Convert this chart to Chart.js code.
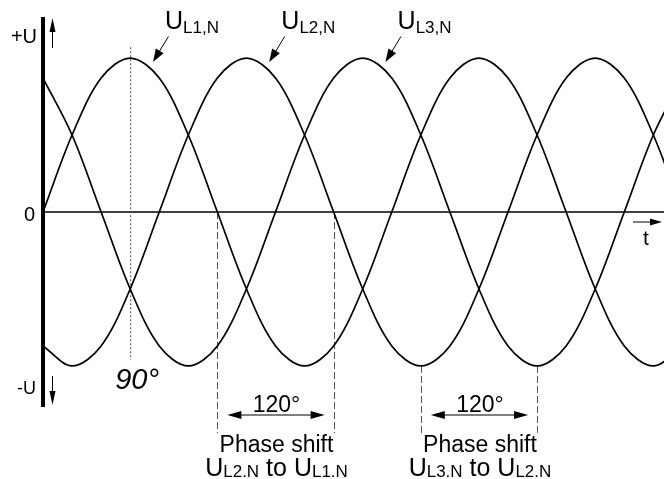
<!DOCTYPE html>
<html>
<head>
<meta charset="utf-8">
<script src="https://cdn.jsdelivr.net/npm/chart.js@4.4.1/dist/chart.umd.min.js"></script>
<style>
  html, body { margin: 0; padding: 0; background: #fff; }
  #wrap { width: 664px; height: 479px; position: relative; }
</style>
</head>
<body>
<div id="wrap"><canvas id="phase-chart"></canvas></div>
<script>
// angle in degrees, values in units of the peak voltage U
const degrees = [0, 30, 60, 90, 120, 150, 180, 210, 240, 270, 300, 330,
  360, 390, 420, 450, 480, 510, 540, 570, 600, 630, 660]
const uL1 = [0, 0.5, 0.87, 1, 0.87, 0.5, 0, -0.5, -0.87, -1, -0.87, -0.5,
  0, 0.5, 0.87, 1, 0.87, 0.5, 0, -0.5, -0.87, -1, -0.87]
const uL2 = [-0.87, -1, -0.87, -0.5, 0, 0.5, 0.87, 1, 0.87, 0.5, 0, -0.5,
  -0.87, -1, -0.87, -0.5, 0, 0.5, 0.87, 1, 0.87, 0.5, 0]
const uL3 = [0.87, 0.5, 0, -0.5, -0.87, -1, -0.87, -0.5, 0, 0.5, 0.87, 1,
  0.87, 0.5, 0, -0.5, -0.87, -1, -0.87, -0.5, 0, 0.5, 0.87]

const seriesNames = ["L1,N", "L2,N", "L3,N"]
const peakDegrees = [90, 210, 330]
// dashed guides: [start, end] degrees and which phases are compared
const shiftGuides = [[180, 300], [390, 510]]
const shiftFrom = [0, -1]   // value where each pair of guides starts
const shiftNames = [["L2.N", "L1.N"], ["L3.N", "L2.N"]]

const FONT = '"Liberation Sans", Arial, sans-serif'

function toPoints(ys) {
  return degrees.map((d, i) => ({ x: d, y: ys[i] }))
}

function arrowHead(c, x1, y1, x2, y2, len, half) {
  const a = Math.atan2(y2 - y1, x2 - x1)
  c.beginPath()
  c.moveTo(x2, y2)
  c.lineTo(x2 - len * Math.cos(a) + half * Math.sin(a), y2 - len * Math.sin(a) - half * Math.cos(a))
  c.lineTo(x2 - len * Math.cos(a) - half * Math.sin(a), y2 - len * Math.sin(a) + half * Math.cos(a))
  c.closePath()
  c.fill()
}

function arrow(c, x1, y1, x2, y2, len, half) {
  const a = Math.atan2(y2 - y1, x2 - x1)
  c.beginPath()
  c.moveTo(x1, y1)
  c.lineTo(x2 - (len - 1) * Math.cos(a), y2 - (len - 1) * Math.sin(a))
  c.stroke()
  arrowHead(c, x1, y1, x2, y2, len, half)
}

// draws "U" with a subscript, returns width
function subText(c, x, y, sub, big, small, drop, measureOnly) {
  c.font = big + "px " + FONT
  const w1 = c.measureText("U").width
  c.font = small + "px " + FONT
  const w2 = c.measureText(sub).width
  if (!measureOnly) {
    c.font = big + "px " + FONT
    c.fillText("U", x, y)
    c.font = small + "px " + FONT
    c.fillText(sub, x + w1, y + drop)
  }
  return w1 + w2
}

const overlay = {
  id: "overlay",
  beforeDatasetsDraw(chart) {
    const c = chart.ctx
    const sx = chart.scales.x, sy = chart.scales.y
    const area = chart.chartArea
    const x0 = sx.getPixelForValue(0), y0 = sy.getPixelForValue(0)
    c.save()
    c.strokeStyle = "#000"
    c.fillStyle = "#000"
    // time axis
    c.lineWidth = 1.6
    c.beginPath()
    c.moveTo(x0, y0)
    c.lineTo(area.right, y0)
    c.stroke()
    // 90 degree marker
    const x90 = sx.getPixelForValue(90)
    c.strokeStyle = "#444"
    c.lineWidth = 1
    c.setLineDash([2, 2])
    c.beginPath()
    c.moveTo(x90 + 0.5, sy.getPixelForValue(1.07))
    c.lineTo(x90 + 0.5, sy.getPixelForValue(-0.96))
    c.stroke()
    // phase shift guides
    c.strokeStyle = "#555"
    c.setLineDash([7, 3])
    shiftGuides.forEach((g, i) => {
      g.forEach(d => {
        const gx = Math.round(sx.getPixelForValue(d)) + 0.5
        c.beginPath()
        c.moveTo(gx, sy.getPixelForValue(shiftFrom[i]))
        c.lineTo(gx, area.bottom + 27)
        c.stroke()
      })
    })
    c.restore()
  },
  afterDatasetsDraw(chart) {
    const c = chart.ctx
    const sx = chart.scales.x, sy = chart.scales.y
    const area = chart.chartArea
    const x0 = sx.getPixelForValue(0), y0 = sy.getPixelForValue(0)
    c.save()
    c.strokeStyle = "#000"
    c.fillStyle = "#000"
    c.textBaseline = "alphabetic"

    // voltage axis
    c.lineWidth = 4
    c.beginPath()
    c.moveTo(x0, area.top - 1)
    c.lineTo(x0, area.bottom + 1)
    c.stroke()

    c.lineWidth = 1
    arrow(c, x0 + 9.5, area.top + 30, x0 + 9.5, area.top, 14, 3)
    arrow(c, x0 + 9.5, area.bottom - 30, x0 + 9.5, area.bottom - 1, 14, 3)
    arrow(c, area.right - 31, y0 + 10, area.right - 2, y0 + 10, 12, 3.5)

    c.textAlign = "right"
    c.font = "20px " + FONT
    c.fillText("+U", x0 - 6, area.top + 25)
    c.fillText("0", x0 - 8, y0 + 9)
    c.font = "18px " + FONT
    c.fillText("-U", x0 - 7, area.bottom - 12)

    c.textAlign = "left"
    c.font = "21px " + FONT
    c.fillText("t", area.right - 21, y0 + 33)

    c.font = "italic 29px " + FONT
    c.fillText("90°", sx.getPixelForValue(90) - 15, sy.getPixelForValue(-1.15))

    // series labels with pointers
    peakDegrees.forEach((p, i) => {
      subText(c, sx.getPixelForValue(p + 36), sy.getPixelForValue(1.19), seriesNames[i], 25, 17, 4)
      c.lineWidth = 1
      arrow(c, sx.getPixelForValue(p + 39.5), sy.getPixelForValue(1.14),
        sx.getPixelForValue(p + 23.5), sy.getPixelForValue(0.975), 13, 4.5)
    })

    // phase shift notes
    shiftGuides.forEach((g, i) => {
      const a = sx.getPixelForValue(g[0]), b = sx.getPixelForValue(g[1])
      const mid = (a + b) / 2
      const ay = area.bottom + 9
      c.lineWidth = 1
      arrow(c, mid, ay, b - 9, ay, 14, 4)
      arrow(c, mid, ay, a + 10, ay, 14, 4)
      c.textAlign = "center"
      c.font = "23px " + FONT
      c.fillText("120°", mid + 1, area.bottom + 6)
      c.fillText("Phase shift", mid + 1, area.bottom + 46)
      c.textAlign = "left"
      const base = area.bottom + 70
      c.font = "25px " + FONT
      const toW = c.measureText(" to ").width
      const w1 = subText(c, 0, 0, shiftNames[i][0], 25, 17, 0, true)
      const w2 = subText(c, 0, 0, shiftNames[i][1], 25, 17, 0, true)
      let x = mid + 1 - (w1 + toW + w2) / 2
      subText(c, x, base, shiftNames[i][0], 25, 17, 1)
      x += w1
      c.font = "25px " + FONT
      c.fillText(" to ", x, base)
      x += toW
      subText(c, x, base, shiftNames[i][1], 25, 17, 1)
    })
    c.restore()
  }
}

const ctx = document.getElementById("phase-chart")

const phaseChart = new Chart(ctx, {
  type: "line",
  data: {
    datasets: [
      { label: "UL1,N", data: toPoints(uL1) },
      { label: "UL2,N", data: toPoints(uL2) },
      { label: "UL3,N", data: toPoints(uL3) },
    ],
  },
  options: {
    responsive: true,
    maintainAspectRatio: false,
    animation: false,
    layout: { padding: { left: 43, top: 18, right: 0, bottom: 73 } },
    elements: {
      line: { borderColor: "#000", borderWidth: 1.7, tension: 0.34, fill: false },
      point: { radius: 0, hoverRadius: 0 },
    },
    scales: {
      x: { type: "linear", min: 0, max: 641, display: false },
      y: { type: "linear", min: -1.26, max: 1.26, display: false },
    },
    plugins: {
      legend: { display: false },
      tooltip: { enabled: false },
    },
  },
  plugins: [overlay],
})
</script>
</body>
</html>
